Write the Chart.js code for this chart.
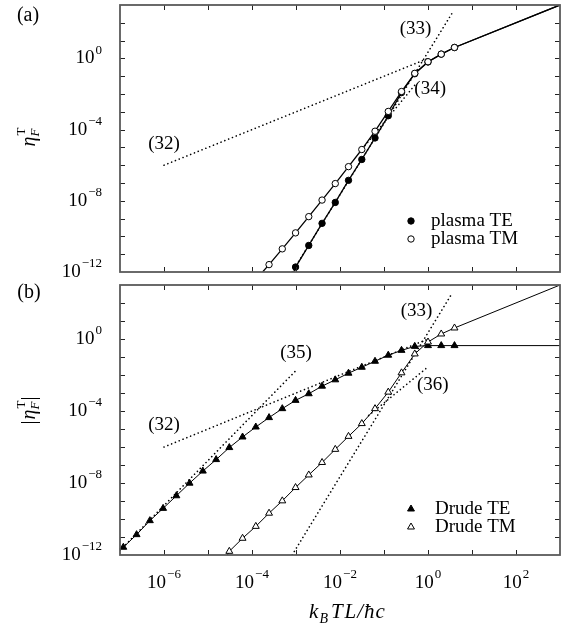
<!DOCTYPE html>
<html lang="en">
<head>
  <meta charset="UTF-8" />
  <title>Thermal correction eta_F^T</title>
  <script src="https://cdn.jsdelivr.net/npm/chart.js"></script>
  <style>
    html, body { margin: 0; padding: 0; background: #fff; }
    #wrap { position: relative; width: 567px; height: 627px; }
    .panel { position: absolute; left: 0; width: 567px; }
  </style>
</head>
<body>
<div id="wrap">
  <div class="panel" style="top:0;height:280px"><canvas id="chartA" width="567" height="280"></canvas></div>
  <div class="panel" style="top:280px;height:347px"><canvas id="chartB" width="567" height="347"></canvas></div>
</div>

<script>
  // ---- data ----
  // panel (a): plasma model
  const xPlasmaTE = [9.77e-4, 1.95e-3, 3.91e-3, 7.81e-3, 0.0156, 0.0313, 0.0625, 0.125, 0.25, 0.5, 1, 2, 4];
  const yPlasmaTE = [1.9e-12, 3.1e-11, 5.4e-10, 8.1e-9, 1.41e-7, 2.1e-6, 3.4e-5, 6.0e-4, 1.2e-2, 0.138, 0.63, 1.74, 4.1];
  const xPlasmaTM = [2.44e-4, 4.88e-4, 9.77e-4, 1.95e-3, 3.91e-3, 7.81e-3, 0.0156, 0.0313, 0.0625, 0.125, 0.25, 0.5, 1, 2, 4];
  const yPlasmaTM = [2.6e-12, 2.0e-11, 1.58e-10, 1.29e-9, 1.1e-8, 9.3e-8, 8.3e-7, 7.6e-6, 8.1e-5, 1.05e-3, 1.38e-2, 0.145, 0.65, 1.74, 4.1];

  // panel (b): Drude model
  const xDrudeTE = [1.19e-7, 2.38e-7, 4.77e-7, 9.54e-7, 1.91e-6, 3.81e-6, 7.63e-6, 1.53e-5, 3.05e-5, 6.10e-5, 1.22e-4,
                    2.44e-4, 4.88e-4, 9.77e-4, 1.95e-3, 3.91e-3, 7.81e-3, 0.0156, 0.0313, 0.0625, 0.125, 0.25, 0.5, 1, 2, 4];
  const yDrudeTE = [2.7e-12, 1.35e-11, 8.1e-11, 3.9e-10, 1.95e-9, 9.8e-9, 4.6e-8, 2.0e-7, 9.3e-7, 3.6e-6, 1.29e-5,
                    4.3e-5, 1.35e-4, 3.9e-4, 9.1e-4, 2.4e-3, 5.4e-3, 1.26e-2, 2.7e-2, 5.8e-2, 0.126, 0.234, 0.39, 0.43, 0.43, 0.43];
  const xDrudeTM = [3.05e-5, 6.10e-5, 1.22e-4, 2.44e-4, 4.88e-4, 9.77e-4, 1.95e-3, 3.91e-3, 7.81e-3, 0.0156, 0.0313,
                    0.0625, 0.125, 0.25, 0.5, 1, 2, 4];
  const yDrudeTM = [1.6e-12, 8.5e-12, 3.9e-11, 2.1e-10, 1.02e-9, 5.6e-9, 2.8e-8, 1.38e-7, 7.4e-7, 3.9e-6, 2.0e-5,
                    1.35e-4, 1.12e-3, 1.32e-2, 0.148, 0.68, 1.9, 4.1];

  // where the solid curves meet the frame (beyond the markers)
  const plasmaTEEnds = [[8.9e-4, 1e-12], [1000, 1000]];
  const plasmaTMEnds = [[1.74e-4, 1e-12], [1000, 1000]];
  const drudeTEEnds  = [null, [1000, 0.43]];
  const drudeTMEnds  = [[2.75e-5, 1e-12], [1000, 1000]];

  // dotted asymptotes, endpoints
  const eq32 = { x: [1e-6, 1],       y: [1e-6, 1] };
  const eq33 = { x: [8.18e-4, 3.55], y: [1e-12, 355] };
  const eq34 = { x: [0.0282, 0.562], y: [5.6e-6, 0.0447] };
  const eq35 = { x: [1e-7, 1e-3],    y: [1.78e-12, 0.0178] };
  const eq36 = { x: [0.0447, 1],     y: [5.6e-5, 0.0282] };

  const xLabelExps = [-6, -4, -2, 0, 2];
  const yLabelExps = [0, -4, -8, -12];

  const SERIF = '"Liberation Serif", "DejaVu Serif", serif';

  function pts(xs, ys) { return xs.map((x, i) => ({ x: x, y: ys[i] })); }

  function markers(xs, ys, style, fill, r) {
    return { data: pts(xs, ys), showLine: false, pointStyle: style, pointRadius: r,
             pointBackgroundColor: fill, pointBorderColor: '#000', pointBorderWidth: 1, order: 0, clip: false };
  }
  function curve(xs, ys, ends, w) {
    const d = pts(xs, ys);
    if (ends[0]) d.unshift({ x: ends[0][0], y: ends[0][1] });
    if (ends[1]) d.push({ x: ends[1][0], y: ends[1][1] });
    return { data: d, showLine: true, borderColor: '#000', borderWidth: w, pointRadius: 0, tension: 0, order: 1 };
  }
  function guide(g) {
    return { data: pts(g.x, g.y), showLine: true, borderColor: '#000', borderWidth: 1.6,
             borderDash: [0.1, 4], borderCapStyle: 'round', pointRadius: 0, order: 2 };
  }

  // "10" with raised exponent
  function pow10(ctx, exp, x, y, align) {
    const e = exp < 0 ? '\u2212' + (-exp) : String(exp);
    ctx.font = '19px ' + SERIF;
    const wb = ctx.measureText('10').width;
    ctx.font = '13px ' + SERIF;
    const we = ctx.measureText(e).width;
    const total = wb + 1 + we;
    const x0 = align === 'right' ? x - total : x - total / 2;
    ctx.textAlign = 'left';
    ctx.textBaseline = 'middle';
    ctx.font = '19px ' + SERIF;
    ctx.fillText('10', x0, y);
    ctx.font = '13px ' + SERIF;
    ctx.fillText(e, x0 + wb + 1, y - 8);
  }

  function drawMarker(ctx, style, fill, x, y, r) {
    ctx.beginPath();
    if (style === 'triangle') {
      for (let i = 0; i < 3; i++) {
        const a = i * 2 * Math.PI / 3;
        const px = x + Math.sin(a) * r, py = y - Math.cos(a) * r;
        i === 0 ? ctx.moveTo(px, py) : ctx.lineTo(px, py);
      }
      ctx.closePath();
    } else {
      ctx.arc(x, y, r, 0, 2 * Math.PI);
    }
    ctx.fillStyle = fill;
    ctx.fill();
    ctx.strokeStyle = '#000';
    ctx.lineWidth = 1;
    ctx.stroke();
  }

  // rotated y title: [|] eta ^T _F [|]
  function drawEta(ctx, cx, cy, bars) {
    ctx.save();
    ctx.translate(cx, cy);
    ctx.rotate(-Math.PI / 2);
    ctx.textBaseline = 'alphabetic';
    ctx.textAlign = 'left';
    const fBig = 'italic 20px ' + SERIF, fBar = '20px ' + SERIF;
    const fT = '13px ' + SERIF, fF = 'italic 13px ' + SERIF;
    ctx.font = fBar; const wBar = bars ? ctx.measureText('|').width + 1 : 0;
    ctx.font = fBig; const wEta = ctx.measureText('\u03B7').width;
    ctx.font = fT; const wT = ctx.measureText('T').width;
    ctx.font = fF; const wF = ctx.measureText('F').width;
    const wSub = Math.max(wT, wF) + 1;
    let x = -(2 * wBar + wEta + wSub) / 2;
    const base = 5;
    ctx.fillStyle = '#000';
    if (bars) { ctx.font = fBar; ctx.fillText('|', x, base); x += wBar; }
    ctx.font = fBig; ctx.fillText('\u03B7', x, base); x += wEta;
    ctx.font = fT; ctx.fillText('T', x + 1, base - 10);
    ctx.font = fF; ctx.fillText('F', x, base + 4);
    x += wSub;
    if (bars) { ctx.font = fBar; ctx.fillText('|', x, base); }
    ctx.restore();
  }

  // k_B T L / hbar c, letters spaced like math italic
  function drawXTitle(ctx, cx, cy) {
    const fI = 'italic 21px ' + SERIF, fS = 'italic 14px ' + SERIF;
    const parts = [['k', fI, 0, 1], ['B', fS, 5, 3], ['T', fI, 0, 2], ['L', fI, 0, 1], ['/', fI, 0, 1], ['\u0127', fI, 0, 1], ['c', fI, 0, 0]];
    let w = 0;
    parts.forEach(p => { ctx.font = p[1]; w += ctx.measureText(p[0]).width + p[3]; });
    let x = cx - w / 2;
    ctx.textAlign = 'left';
    ctx.textBaseline = 'alphabetic';
    ctx.fillStyle = '#000';
    parts.forEach(p => {
      ctx.font = p[1];
      ctx.fillText(p[0], x, cy + p[2]);
      x += ctx.measureText(p[0]).width + p[3];
    });
  }

  const panelDeco = {
    id: 'panelDeco',
    afterDatasetsDraw(chart, args, o) {
      const ctx = chart.ctx, a = chart.chartArea;
      const xs = chart.scales.x, ys = chart.scales.y;
      ctx.save();

      // tick marks pointing inward, every decade
      ctx.strokeStyle = '#222';
      ctx.lineWidth = 1;
      ctx.beginPath();
      for (let e = -6; e <= 2; e++) {
        const px = Math.round(xs.getPixelForValue(Math.pow(10, e))) + 0.5;
        ctx.moveTo(px, a.bottom); ctx.lineTo(px, a.bottom - 5);
        ctx.moveTo(px, a.top); ctx.lineTo(px, a.top + 5);
      }
      for (let e = -11; e <= 2; e++) {
        const py = Math.round(ys.getPixelForValue(Math.pow(10, e))) + 0.5;
        ctx.moveTo(a.left, py); ctx.lineTo(a.left + 5, py);
        ctx.moveTo(a.right, py); ctx.lineTo(a.right - 5, py);
      }
      ctx.stroke();

      // frame
      ctx.strokeStyle = '#5a5a5a';
      ctx.lineWidth = 1.8;
      ctx.strokeRect(a.left, a.top, a.right - a.left, a.bottom - a.top);

      ctx.fillStyle = '#000';
      yLabelExps.forEach(e => pow10(ctx, e, 102, ys.getPixelForValue(Math.pow(10, e)), 'right'));
      if (o.xLabels) {
        xLabelExps.forEach(e => pow10(ctx, e, xs.getPixelForValue(Math.pow(10, e)), a.bottom + 28, 'center'));
        drawXTitle(ctx, 347, a.bottom + 63);
      }

      // equation labels
      ctx.font = '19px ' + SERIF;
      ctx.textAlign = 'center';
      ctx.textBaseline = 'middle';
      o.notes.forEach(n => ctx.fillText(n.text, xs.getPixelForValue(n.x), ys.getPixelForValue(n.y)));

      // panel tag
      ctx.font = '20px ' + SERIF;
      ctx.fillText(o.tag[0], o.tag[1], o.tag[2]);

      // legend
      o.legend.forEach(l => {
        drawMarker(ctx, l.style, l.fill, 411, l.y, l.r);
        ctx.fillStyle = '#000';
        ctx.font = '19px ' + SERIF;
        ctx.textAlign = 'left';
        ctx.textBaseline = 'middle';
        ctx.fillText(l.text, l.tx, l.y);
      });

      drawEta(ctx, 30, o.titleY, o.bars);
      ctx.restore();
    }
  };

  function makeChart(id, datasets, pad, deco) {
    return new Chart(document.getElementById(id), {
      type: 'scatter',
      data: { datasets: datasets },
      options: {
        responsive: false,
        animation: false,
        events: [],
        layout: { padding: pad },
        plugins: { legend: { display: false }, tooltip: { enabled: false }, panelDeco: deco },
        scales: {
          x: { type: 'logarithmic', min: 1e-7, max: 1e3, display: false },
          y: { type: 'logarithmic', min: 1e-12, max: 1e3, display: false }
        }
      },
      plugins: [panelDeco]
    });
  }

  makeChart('chartA', [
    markers(xPlasmaTM, yPlasmaTM, 'circle', '#fff', 3.2),
    markers(xPlasmaTE, yPlasmaTE, 'circle', '#000', 3.2),
    curve(xPlasmaTE, yPlasmaTE, plasmaTEEnds, 1.3),
    curve(xPlasmaTM, yPlasmaTM, plasmaTMEnds, 1.3),
    guide(eq32), guide(eq33), guide(eq34)
  ], { left: 120, right: 7, top: 2, bottom: 8 }, {
    xLabels: false, bars: false, titleY: 137, tag: ['(a)', 28, 16],
    notes: [
      { text: '(32)', x: 1e-6, y: 1.6e-5 },
      { text: '(33)', x: 0.52, y: 45 },
      { text: '(34)', x: 1.12, y: 0.02 }
    ],
    legend: [
      { text: 'plasma TE', style: 'circle', fill: '#000', r: 3.2, y: 221, tx: 431 },
      { text: 'plasma TM', style: 'circle', fill: '#fff', r: 3.2, y: 239, tx: 431 }
    ]
  });

  makeChart('chartB', [
    markers(xDrudeTM, yDrudeTM, 'triangle', '#fff', 4),
    markers(xDrudeTE, yDrudeTE, 'triangle', '#000', 4),
    curve(xDrudeTE, yDrudeTE, drudeTEEnds, 1),
    curve(xDrudeTM, yDrudeTM, drudeTMEnds, 1),
    guide(eq32), guide(eq33), guide(eq35), guide(eq36)
  ], { left: 120, right: 7, top: 3, bottom: 72 }, {
    xLabels: true, bars: true, titleY: 130, tag: ['(b)', 29, 13],
    notes: [
      { text: '(32)', x: 1e-6, y: 1.66e-5 },
      { text: '(35)', x: 1e-3, y: 0.17 },
      { text: '(33)', x: 0.55, y: 37 },
      { text: '(36)', x: 1.29, y: 2.7e-3 }
    ],
    legend: [
      { text: 'Drude TE', style: 'triangle', fill: '#000', r: 4, y: 229, tx: 435 },
      { text: 'Drude TM', style: 'triangle', fill: '#fff', r: 4, y: 247, tx: 435 }
    ]
  });
</script>
</body>
</html>
